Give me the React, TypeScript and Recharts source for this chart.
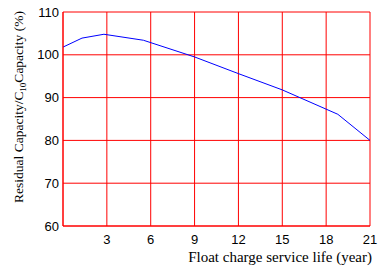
import { LineChart, Line, XAxis, YAxis, CartesianGrid, Label } from 'recharts'

// years of float service vs residual capacity (%)
const years = [0, 1.3, 2.8, 5.5, 9, 12, 15, 18.8, 21]
const capacity = [101.8, 103.9, 104.8, 103.4, 99.5, 95.6, 91.8, 86.1, 80]
const xTicks = [3, 6, 9, 12, 15, 18, 21]
const yTicks = [60, 70, 80, 90, 100, 110]

const data = years.map((y, i) => ({ year: y, cap: capacity[i] }))

const serif = '"Liberation Serif", "Times New Roman", serif'
const sans = '"Liberation Sans", Arial, sans-serif'

function YTitle(props: any) {
  const cx = 23
  const cy = 107
  return (
    <text
      x={cx}
      y={cy}
      transform={`rotate(-90 ${cx} ${cy})`}
      textAnchor="middle"
      fontFamily={serif}
      fontSize={13.5}
      fill="#000"
    >
      <tspan>Residual Capacity/C</tspan>
      <tspan fontSize={9} dy={3}>10</tspan>
      <tspan dy={-3}>Capacity (%)</tspan>
    </text>
  )
}

function XTitle(props: any) {
  return (
    <text x={372} y={262} textAnchor="end" fontFamily={serif} fontSize={15} fill="#000">
      Float charge service life (year)
    </text>
  )
}

export default function App() {
  return (
    <div style={{ position: 'absolute', left: 0, top: 0, background: '#fff' }}>
      <LineChart
        width={378}
        height={266}
        data={data}
        margin={{ top: 12, right: 8, left: 0, bottom: 0 }}
      >
        <CartesianGrid stroke="#ff0000" strokeWidth={1} />
        <XAxis
          dataKey="year"
          type="number"
          domain={[0, 21]}
          ticks={xTicks}
          height={40}
          axisLine={{ stroke: '#ff0000' }}
          tickLine={false}
          tickSize={0}
          tickMargin={9}
          tick={{ fill: '#000', fontSize: 13, fontFamily: sans }}
        >
          <Label content={<XTitle />} />
        </XAxis>
        <YAxis
          type="number"
          domain={[60, 110]}
          ticks={yTicks}
          width={63}
          axisLine={{ stroke: '#ff0000' }}
          tickLine={false}
          tickSize={0}
          tickMargin={4}
          tick={{ fill: '#000', fontSize: 13, fontFamily: sans }}
        >
          <Label content={<YTitle />} />
        </YAxis>
        <Line
          type="linear"
          dataKey="cap"
          stroke="#0000ff"
          strokeWidth={1}
          dot={false}
          isAnimationActive={false}
        />
      </LineChart>
    </div>
  )
}
